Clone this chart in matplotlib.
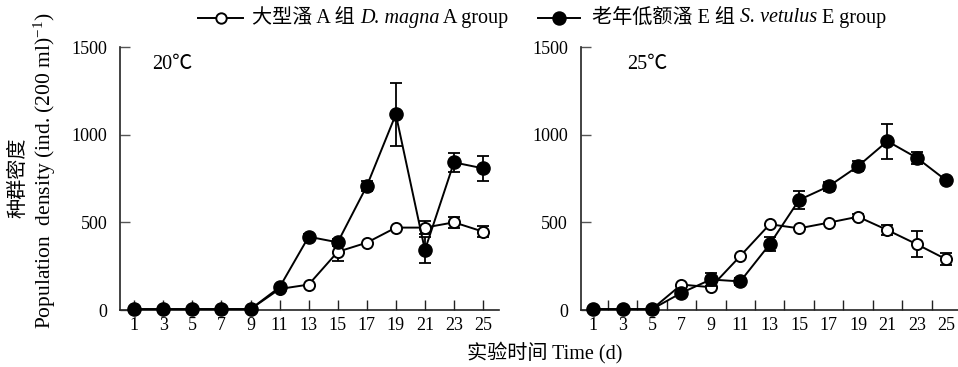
import numpy as np
import matplotlib
matplotlib.use("Agg")
import matplotlib.pyplot as plt
from matplotlib.lines import Line2D

plt.rcParams['font.family'] = ['Liberation Serif', 'Noto Sans CJK SC']
plt.rcParams['mathtext.fontset'] = 'custom'
plt.rcParams['mathtext.rm'] = 'Liberation Serif'
plt.rcParams['mathtext.it'] = 'Liberation Serif:italic'

days = [1, 3, 5, 7, 9, 11, 13, 15, 17, 19, 21, 23, 25]

# 20 C
dm20 = [5, 5, 5, 5, 5, 120, 145, 332, 384, 470, 470, 500, 447]
dm20_err = [0, 0, 0, 0, 0, 0, 0, 55, 0, 0, 35, 30, 30]
sv20 = [5, 5, 5, 5, 5, 130, 418, 386, 707, 1116, 342, 842, 808]
sv20_err = [0, 0, 0, 0, 0, 10, 15, 20, 30, 180, 75, 55, 70]

# 25 C
dm25 = [5, 5, 5, 145, 130, 308, 489, 466, 498, 532, 456, 375, 289]
dm25_err = [0, 0, 0, 0, 0, 0, 0, 0, 0, 15, 30, 75, 35]
sv25 = [5, 5, 5, 98, 174, 163, 375, 628, 705, 820, 963, 868, 739]
sv25_err = [0, 0, 0, 0, 35, 20, 40, 50, 25, 30, 100, 35, 10]

yticks = [0, 500, 1000, 1500]
temps = ["20℃", "25℃"]

fig = plt.figure(figsize=(9.58, 3.67), dpi=100)
ax1 = fig.add_axes([0.1253, 0.1553, 0.3956, 0.7166])
ax2 = fig.add_axes([0.606, 0.1553, 0.394, 0.7166])


def draw_series(ax, y, err, filled, z):
    x = np.array(days)
    y = np.array(y, dtype=float)
    e = np.array(err, dtype=float)
    m = e > 0
    ax.errorbar(x[m], y[m], yerr=e[m], fmt='none', ecolor='k',
                elinewidth=1.3, capsize=4.5, capthick=1.3, zorder=z)
    if filled:
        ax.plot(x, y, '-o', color='k', lw=1.4, ms=9.5, mfc='k', mec='k',
                zorder=z + 1, clip_on=False)
    else:
        ax.plot(x, y, '-o', color='k', lw=1.4, ms=8, mfc='white', mec='k',
                mew=1.4, zorder=z + 1, clip_on=False)


draw_series(ax1, dm20, dm20_err, False, 3)
draw_series(ax1, sv20, sv20_err, True, 5)
draw_series(ax2, dm25, dm25_err, False, 3)
draw_series(ax2, sv25, sv25_err, True, 5)

ax1.set_xlim(0.02, 26.1)
ax2.set_xlim(0.14, 25.8)

for ax, t, tx in zip([ax1, ax2], temps, [0.084, 0.123]):
    ax.set_ylim(0, 1500)
    ax.set_yticks(yticks)
    ax.set_xticks(days)
    ax.spines['top'].set_visible(False)
    ax.spines['right'].set_visible(False)
    for s in ['left', 'bottom']:
        ax.spines[s].set_linewidth(1.2)
        ax.spines[s].set_color('#222222')
    ax.tick_params(axis='y', direction='in', length=7, width=1.0,
                   color='#555555', labelsize=13, pad=9)
    ax.tick_params(axis='x', direction='in', length=7, width=1.0,
                   color='#222222', labelsize=13, pad=5)
    ax.text(tx, 0.935, t, transform=ax.transAxes, fontsize=14.5,
            va='center', ha='left')

# right panel: tick marks sit between the labels
ax2.tick_params(axis='x', which='major', length=0)
ax2.set_xticks([2, 4, 6, 8, 10, 12, 14, 16, 18, 20, 22, 24], minor=True)
ax2.tick_params(axis='x', which='minor', direction='in', length=7, width=1.0,
                color='#222222')

fig.text(0.569, 0.04, "实验时间 Time (d)", ha='center', va='center', fontsize=14.5)
fig.text(0.019, 0.515, "种群密度", rotation=90, ha='center', va='center',
         fontsize=14.5, family=['Noto Sans CJK SC'])
fig.text(0.047, 0.535, "Population  density (ind. (200 ml)$^{-1}$)", rotation=90,
         ha='center', va='center', fontsize=15.5)

# legend row on top
fig.canvas.draw()
renderer = fig.canvas.get_renderer()
W, H = fig.get_size_inches() * fig.dpi
ly = 1 - 18 / H


def handle(x0, x1, filled):
    xs = np.array([x0, (x0 + x1) / 2, x1]) / W
    ln = Line2D(xs, [ly, ly, ly], transform=fig.transFigure, color='k', lw=1.4,
                marker='o', markevery=[1], ms=9 if filled else 7.5,
                mfc='k' if filled else 'white', mec='k', mew=1.4)
    fig.add_artist(ln)


def seq_text(x, parts):
    for s, style in parts:
        t = fig.text(x / W, ly, s, ha='left', va='center', fontsize=14.5,
                     style=style)
        bb = t.get_window_extent(renderer)
        x += bb.width
    return x


handle(198, 243, False)
seq_text(252, [("大型溞 A 组 ", 'normal'), ("D. magna", 'italic'),
               (" A group", 'normal')])
handle(538, 580, True)
seq_text(592, [("老年低额溞 E 组 ", 'normal'), ("S. vetulus", 'italic'),
               (" E group", 'normal')])

fig.savefig("out.png", dpi=100)
